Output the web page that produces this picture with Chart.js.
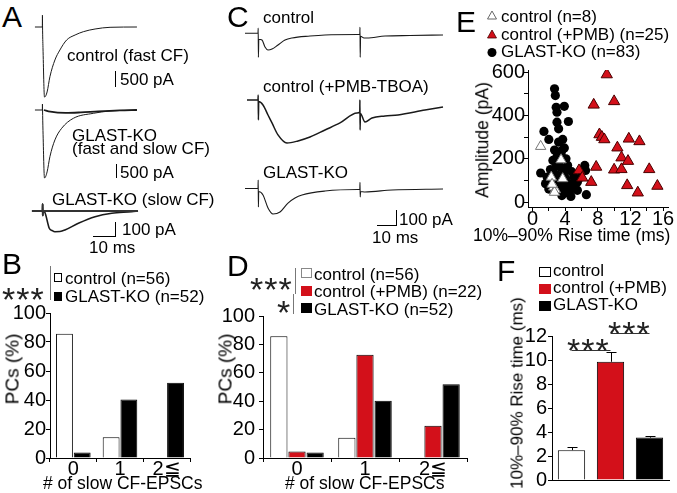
<!DOCTYPE html>
<html>
<head>
<meta charset="utf-8">
<script src="https://cdn.jsdelivr.net/npm/chart.js@4"></script>
<style>
  html, body { margin: 0; padding: 0; background: #fff; }
  #fig { position: relative; width: 677px; height: 493px; overflow: hidden; background: #fff;
         font-family: 'Liberation Sans', Arial, sans-serif; color: #000; }
  #fig canvas { position: absolute; }
  .t { position: absolute; line-height: 1; white-space: nowrap; }
  .ln { position: absolute; background: #000; }
</style>
</head>
<body>
<div id="fig"></div>
<script>
// ---- panel A traces [ms, pA] ----
const aControlFast = [[0.9,0],[4.3,0],[4.35,350],[4.4,0],[4.6,-600],[5.3,-2060],[6.5,-1910],[7.8,-1460],[10.1,-970],[12.4,-676],[15.5,-382],[19.4,-235],[23.2,-138],[28.6,-59],[35.5,-9],[47.9,0]];
const aKoFastSlow = [[0.9,0],[4.3,0],[4.35,176],[4.4,0],[4.6,-600],[5.3,-2000],[6.5,-1820],[7.8,-1370],[10.1,-880],[13.2,-538],[18.6,-244],[27.8,-97],[35.5,-29],[47.9,0]];
const aKoSlowOnly = [[5.0,0],[8,-50],[15,-85],[22,-70],[30,-40],[40,-12],[47.9,0]];
const aKoSlow = [[-0.5,0],[4.4,0],[4.45,47],[4.5,-30],[4.6,0],[5.5,-10],[7.5,-115],[8.8,-130],[10.1,-138],[12.4,-137],[14.7,-127],[20.9,-82],[28.6,-38],[36.3,-15],[45.5,-5],[48.4,0]];
const aKoSlowFail = [[-0.5,0],[4.4,0],[4.45,47],[4.5,-30],[4.6,0],[48.4,0]];

// ---- panel C traces [ms, pA] ----
const cControl = [[0,0],[6.5,0],[6.6,35],[6.7,-160],[6.9,-40],[8.5,-45],[10,-91],[11.5,-111],[13.5,-105],[16.5,-78],[20,-45],[23.5,-31],[32.5,-18],[40,-11],[56.5,-8],[57.4,-8],[57.5,40],[57.6,-160],[57.8,-20],[59.5,-31],[61,-31],[70,-18],[82.5,-15],[99,-11]];
const cPMB = [[1,0],[6.5,0],[6.6,33],[6.7,-133],[6.85,-10],[9,-33],[11.5,-100],[13.5,-153],[16.5,-233],[21,-287],[26.5,-273],[32.5,-247],[40,-200],[47.5,-153],[56,-87],[57.4,-80],[57.45,0],[57.55,-200],[57.7,-90],[60,-147],[63.5,-120],[70,-107],[76.5,-100],[90,-67],[99,-47]];
const cKO = [[0,0],[6.5,0],[6.6,57],[6.7,-123],[6.85,-20],[9,-43],[11.5,-130],[14,-170],[17.5,-157],[21.5,-97],[25,-63],[28.5,-43],[40,-17],[56.5,-7],[57.4,-7],[57.5,40],[57.6,-57],[57.8,-20],[60,-23],[73.5,-10],[99,-3]];

// ---- panels B / D ----
const slowCategories = ['0', '1', '2≦'];
const bControl = [85.7, 14.3, 0];
const bGlastKO = [3.8, 40.4, 51.9];
const dControl = [85.7, 14.3, 0];
const dPMB = [4.5, 72.7, 22.7];
const dGlastKO = [3.8, 40.4, 51.9];
const pcTicks = [0, 20, 40, 60, 80, 100];

// ---- panel E [rise time ms, amplitude pA] ----
const eControl = [[1.0,257],[2.3,115],[3.7,108],[2.6,69],[2.8,57],[2.7,45],[3.5,195],[2.4,82]];
const ePMB = [[9.1,589],[7.5,449],[10.0,465],[8.2,312],[8.5,300],[8.8,289],[11.8,292],[13.1,280],[10.4,251],[10.9,205],[11.7,189],[7.8,162],[10.0,149],[10.9,151],[14.3,151],[5.7,146],[6.1,112],[7.2,92],[11.6,77],[15.3,74],[12.9,43]];
const eKO = [[2.7,523],[2.8,492],[3.9,442],[2.9,438],[3.0,415],[4.4,372],[3.0,369],[3.2,338],[1.4,326],[2.0,289],[3.7,289],[3.2,277],[3.6,238],[3.5,220],[2.5,192],[4.1,200],[2.9,177],[3.4,162],[2.5,146],[1.0,134],[4.1,146],[6.4,169],[6.5,146],[3.1,123],[1.8,115],[5.1,115],[4.1,108],[1.6,85],[4.5,85],[5.5,92],[3.5,77],[4.9,62],[4.3,46],[5.5,54],[6.6,34],[4.7,26],[3.3,57],[2.5,72],[3.9,42],[5.9,115],[3.0,100],[3.8,130],[2.2,150],[3.3,190],[4.3,170],[2.7,240],[3.9,250],[2.0,60],[4.0,70],[3.6,30],[4.8,140],[5.2,75],[3.0,210],[2.4,110]];
const eXTicks = [0, 2, 4, 6, 8, 10, 12, 14, 16];
const eYTicks = [0, 100, 200, 300, 400, 500, 600];

// ---- panel F ----
const fGroups = ['control', 'control (+PMB)', 'GLAST-KO'];
const fMean = [2.5, 9.9, 3.55];
const fSem = [0.3, 0.8, 0.15];
const fSigFrom = [0, 1];
const fSigTo = [1, 2];
const fSigLevel = [10.85, 12.3];
const fTicks = [0, 2, 4, 6, 8, 10, 12];

const RED = '#d3101a';
const fig = document.getElementById('fig');

Chart.defaults.animation = false;
Chart.defaults.responsive = false;
Chart.defaults.font.family = "'Liberation Sans', Arial, sans-serif";
Chart.defaults.color = '#000';
Chart.defaults.plugins.legend.display = false;
Chart.defaults.plugins.tooltip.enabled = false;

function canvasAt(left, top, w, h) {
  const c = document.createElement('canvas');
  c.width = w; c.height = h;
  c.style.left = left + 'px'; c.style.top = top + 'px';
  c.style.width = w + 'px'; c.style.height = h + 'px';
  fig.appendChild(c);
  return c;
}

function txt(s, x, base, size, extra) {
  const d = document.createElement('div');
  d.className = 't';
  d.textContent = s;
  d.style.left = x + 'px';
  d.style.top = (base - 0.8465 * size) + 'px';
  d.style.fontSize = size + 'px';
  if (extra) d.style.cssText += extra;
  fig.appendChild(d);
  return d;
}

function vtxt(s, cx, cy, size) {
  const d = document.createElement('div');
  d.className = 't';
  d.textContent = s;
  d.style.left = cx + 'px';
  d.style.top = cy + 'px';
  d.style.fontSize = size + 'px';
  d.style.transform = 'translate(-50%,-50%) rotate(-90deg)';
  fig.appendChild(d);
}

function stars(s, x, cy, spacing) {
  const size = 34;
  txt(s, x, cy + 0.575 * size, size, 'color:#222;letter-spacing:' + (spacing || 0) + 'px;');
}

function line(x, y, w, h, col) {
  const d = document.createElement('div');
  d.className = 'ln';
  d.style.left = x + 'px'; d.style.top = y + 'px';
  d.style.width = w + 'px'; d.style.height = h + 'px';
  if (col) d.style.background = col;
  fig.appendChild(d);
}

function box(x, y, w, h, fill, border) {
  const d = document.createElement('div');
  d.style.cssText = `position:absolute;left:${x}px;top:${y}px;width:${w}px;height:${h}px;box-sizing:border-box;background:${fill};border:1px solid ${border};`;
  fig.appendChild(d);
}

// trace chart: box in page px, s = {x0, pxPerMs, base, paPerPx}
function traceChart(bx, s, sets) {
  const c = canvasAt(bx.left, bx.top, bx.width, bx.height);
  new Chart(c, {
    type: 'line',
    data: {
      datasets: sets.map(d => ({
        data: d.pts.map(p => ({ x: p[0], y: p[1] })),
        borderColor: d.color || '#1a1a1a',
        borderWidth: d.w || 1,
        pointRadius: 0,
        cubicInterpolationMode: 'monotone',
        fill: false
      }))
    },
    options: {
      layout: { padding: 0 },
      scales: {
        x: { type: 'linear', display: false,
             min: (bx.left - s.x0) / s.pxPerMs, max: (bx.left + bx.width - s.x0) / s.pxPerMs },
        y: { type: 'linear', display: false,
             min: -(bx.top + bx.height - s.base) * s.paPerPx, max: (s.base - bx.top) * s.paPerPx }
      }
    }
  });
}

// ---------- A ----------
traceChart({ left: 28, top: 3, width: 115, height: 100 }, { x0: 33, pxPerMs: 2.17, base: 27, paPerPx: 29.4 },
  [{ pts: aControlFast }]);
traceChart({ left: 28, top: 95, width: 115, height: 90 }, { x0: 33, pxPerMs: 2.17, base: 110, paPerPx: 29.4 },
  [{ pts: aKoFastSlow }, { pts: aKoSlowOnly, w: 1.8 }]);
traceChart({ left: 28, top: 196, width: 115, height: 45 }, { x0: 33, pxPerMs: 2.17, base: 211, paPerPx: 6.67 },
  [{ pts: aKoSlowFail, w: 2, color: '#333' }, { pts: aKoSlow, w: 1.6 }]);

// ---------- C ----------
traceChart({ left: 240, top: 15, width: 210, height: 50 }, { x0: 245, pxPerMs: 2.0, base: 33.3, paPerPx: 6.67 },
  [{ pts: cControl, w: 1.1 }]);
traceChart({ left: 240, top: 82, width: 210, height: 70 }, { x0: 245, pxPerMs: 2.0, base: 100, paPerPx: 6.67 },
  [{ pts: cPMB, w: 1.5 }]);
traceChart({ left: 240, top: 172, width: 210, height: 48 }, { x0: 245, pxPerMs: 2.0, base: 188.5, paPerPx: 6.67 },
  [{ pts: cKO, w: 1.1 }]);

// ---------- bar chart helper for B / D ----------
function pcChart(left, width, padTop, yWidth, padRight, yPad, datasets, catPct) {
  const c = canvasAt(left, 300, width, 193);
  new Chart(c, {
    type: 'bar',
    data: { labels: slowCategories, datasets: datasets },
    options: {
      layout: { padding: { top: padTop, right: padRight, left: 0, bottom: 0 } },
      datasets: { bar: { categoryPercentage: catPct, barPercentage: 0.95, borderWidth: 1, borderColor: '#000' } },
      scales: {
        x: {
          border: { display: true, color: '#000' },
          grid: { display: true, offset: true, drawOnChartArea: false, tickLength: 4, color: '#000' },
          ticks: { font: { size: 20 }, padding: -5, color: '#000', autoSkip: false, maxRotation: 0 },
          afterFit: s => { s.height = 35; }
        },
        y: {
          min: 0, max: 100,
          afterBuildTicks: s => { s.ticks = pcTicks.map(v => ({ value: v })); },
          border: { display: true, color: '#000' },
          grid: { display: true, drawOnChartArea: false, tickLength: 4, color: '#000' },
          ticks: { font: { size: 20 }, padding: yPad, color: '#000', autoSkip: false },
          afterFit: s => { s.width = yWidth; }
        }
      }
    }
  });
}

// ---------- B ----------
pcChart(0, 200, 13, 50, 10, 0, [
  { data: bControl, backgroundColor: '#fff' },
  { data: bGlastKO, backgroundColor: '#000' }
], 0.76);

// ---------- D ----------
pcChart(215, 262, 11, 48, 10, 4, [
  { data: dControl, backgroundColor: '#fff' },
  { data: dPMB, backgroundColor: RED },
  { data: dGlastKO, backgroundColor: '#000' }
], 0.8);

// ---------- E ----------
{
  const c = canvasAt(455, 55, 222, 195);
  const pts = a => a.map(p => ({ x: p[0], y: p[1] }));
  new Chart(c, {
    type: 'scatter',
    data: {
      datasets: [
        { data: pts(eControl), pointStyle: 'triangle', pointRadius: 6, backgroundColor: '#fff', borderColor: '#777', borderWidth: 1 },
        { data: pts(ePMB), pointStyle: 'triangle', pointRadius: 6.5, backgroundColor: RED, borderColor: '#4a0000', borderWidth: 1 },
        { data: pts(eKO), pointStyle: 'circle', pointRadius: 4.6, backgroundColor: '#000', borderColor: '#000', borderWidth: 0 }
      ]
    },
    options: {
      layout: { padding: { top: 15, right: 9, left: 0, bottom: 0 } },
      scales: {
        x: {
          type: 'linear', min: -0.55, max: 16.6,
          afterBuildTicks: s => { s.ticks = eXTicks.map(v => ({ value: v })); },
          border: { display: true, color: '#000' },
          grid: { display: true, drawOnChartArea: false, tickLength: 4, color: '#000' },
          ticks: { font: { size: 20 }, padding: -4, color: '#000', autoSkip: false, maxRotation: 0,
                   callback: v => (v % 4 === 0 ? v : '') },
          afterFit: s => { s.height = 43; }
        },
        y: {
          type: 'linear', min: -23, max: 610,
          afterBuildTicks: s => { s.ticks = eYTicks.map(v => ({ value: v })); },
          border: { display: true, color: '#000' },
          grid: { display: true, drawOnChartArea: false, tickLength: 4, color: '#000' },
          ticks: { font: { size: 20 }, padding: -1, color: '#000', autoSkip: false,
                   callback: v => (v % 200 === 0 ? v : '') },
          afterFit: s => { s.width = 73; }
        }
      }
    }
  });
}

// ---------- F ----------
{
  const c = canvasAt(495, 320, 182, 173);
  const errPlugin = {
    id: 'errAndSig',
    afterDatasetsDraw(chart) {
      const ctx = chart.ctx, y = chart.scales.y, bars = chart.getDatasetMeta(0).data;
      ctx.save();
      ctx.strokeStyle = '#000';
      ctx.lineWidth = 1;
      bars.forEach((b, i) => {
        const yb = y.getPixelForValue(fMean[i]), yt = Math.round(y.getPixelForValue(fMean[i] + fSem[i])) + 0.5;
        const x = Math.round(b.x) + 0.5;
        ctx.beginPath();
        ctx.moveTo(x, yb); ctx.lineTo(x, yt);
        ctx.moveTo(x - 5, yt); ctx.lineTo(x + 5, yt);
        ctx.stroke();
      });
      ctx.strokeStyle = '#333';
      fSigLevel.forEach((lv, i) => {
        const yy = Math.round(y.getPixelForValue(lv)) + 0.5;
        ctx.beginPath();
        ctx.moveTo(bars[fSigFrom[i]].x, yy); ctx.lineTo(bars[fSigTo[i]].x, yy);
        ctx.stroke();
      });
      ctx.restore();
    }
  };
  new Chart(c, {
    type: 'bar',
    data: {
      labels: fGroups,
      datasets: [{ data: fMean, backgroundColor: ['#fff', RED, '#000'], borderColor: '#000', borderWidth: 1,
                   categoryPercentage: 0.7, barPercentage: 1 }]
    },
    options: {
      layout: { padding: { top: 16.7, right: 8, left: 0, bottom: 0 } },
      scales: {
        x: {
          border: { display: true, color: '#000' },
          grid: { display: false },
          ticks: { display: false },
          afterFit: s => { s.height = 10; }
        },
        y: {
          min: 0, max: 12,
          afterBuildTicks: s => { s.ticks = fTicks.map(v => ({ value: v })); },
          border: { display: true, color: '#000' },
          grid: { display: true, drawOnChartArea: false, tickLength: 4, color: '#000' },
          ticks: { font: { size: 20 }, padding: 1, color: '#000', autoSkip: false },
          afterFit: s => { s.width = 57; }
        }
      }
    },
    plugins: [errPlugin]
  });
}

// ---------- text, legends, scale bars ----------
const LETTER = 30;
// A
txt('A', 2, 27, LETTER);
txt('control (fast CF)', 67, 61, 17);
line(115, 71, 1, 16); txt('500 pA', 120, 85, 17);
txt('GLAST-KO', 72, 141, 17);
txt('(fast and slow CF)', 72, 154.5, 17);
line(116, 164, 1, 14); txt('500 pA', 120, 178, 17);
txt('GLAST-KO (slow CF)', 52, 205, 17);
line(115, 221.5, 1, 15); txt('100 pA', 122, 235, 17);
line(93, 236, 22, 1); txt('10 ms', 89, 253, 17);

// C
txt('C', 227, 27, LETTER);
txt('control', 263, 23, 17);
txt('control (+PMB-TBOA)', 263, 92, 17);
txt('GLAST-KO', 263, 178, 17);
line(396, 210, 1, 15); txt('100 pA', 399, 225, 17);
line(377, 224.5, 20, 1); txt('10 ms', 372, 243, 17);

// B
txt('B', 2, 274, LETTER);
stars('***', 2, 291, 1);
line(50, 266, 1, 34, '#777');
box(54, 273, 8, 9, '#fff', '#000'); txt('control (n=56)', 65, 284, 17);
box(54, 291.5, 8, 9, '#000', '#000'); txt('GLAST-KO (n=52)', 65, 302, 17);
vtxt('PCs (%)', 12, 369, 19);
txt('# of slow CF-EPSCs', 43, 490, 17.5);

// D
txt('D', 227, 276, LETTER);
stars('***', 250, 281, 1);
stars('*', 277, 304, 0);
line(295, 268, 1, 26, '#777');
line(293, 294, 1, 20, '#777');
box(301, 268, 11, 10, '#fff', '#888'); txt('control (n=56)', 314, 280, 17);
box(301, 286, 11, 10, RED, RED); txt('control (+PMB) (n=22)', 314, 297.5, 17);
box(301, 303, 11, 10, '#000', '#000'); txt('GLAST-KO (n=52)', 314, 315, 17);
vtxt('PCs (%)', 225, 369, 19);
txt('# of slow CF-EPSCs', 285, 490, 17.5);

// E
txt('E', 456, 32, LETTER);
{
  const s = document.createElement('div');
  s.style.cssText = 'position:absolute;left:486px;top:8px;width:14px;height:52px;';
  s.innerHTML = '<svg width="14" height="52" viewBox="0 0 14 52">' +
    '<polygon points="6,3 10.5,11 1.5,11" fill="#fff" stroke="#666" stroke-width="1"/>' +
    '<polygon points="6,22 10.5,30 1.5,30" fill="' + RED + '" stroke="#4a0000" stroke-width="0.8"/>' +
    '<circle cx="6" cy="44.5" r="4.5" fill="#000"/></svg>';
  fig.appendChild(s);
}
txt('control (n=8)', 501, 22, 17);
txt('control (+PMB) (n=25)', 501, 40, 17);
txt('GLAST-KO (n=83)', 501, 57.5, 17);
vtxt('Amplitude (pA)', 483, 140, 17.5);
txt('10%–90% Rise time (ms)', 473, 242, 17.5);

// F
txt('F', 497, 281, LETTER);
box(539, 267, 12, 10, '#fff', '#000'); txt('control', 553, 276.5, 17);
box(539, 284, 12, 10, RED, RED); txt('control (+PMB)', 553, 293.5, 17);
box(539, 301, 12, 10, '#000', '#000'); txt('GLAST-KO', 553, 310.5, 17);
vtxt('10%–90% Rise time (ms)', 517, 393, 17);
stars('***', 567, 342, 1);
stars('***', 608, 325, 1);
</script>
</body>
</html>
